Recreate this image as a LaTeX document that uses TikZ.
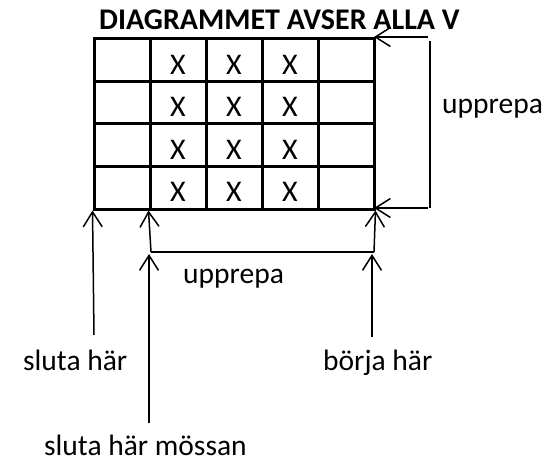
\documentclass[tikz,border=0pt]{standalone}
\usepackage{fontspec}
\setmainfont{Carlito}
\usetikzlibrary{arrows.meta}
\begin{document}
\begin{tikzpicture}[x=1pt,y=-1pt,
  cell/.style={draw,line width=3pt,minimum width=56pt,minimum height=42.5pt,inner sep=0pt,
    text height=28pt,text depth=0pt,font=\fontsize{30}{30}\selectfont},
  conn/.style={line width=1.5pt,-{Straight Barb[length=15pt,width=19pt,line width=1.5pt]}},
  plain/.style={line width=1.5pt},
  lbl/.style={font=\fontsize{29.5}{29.5}\selectfont,inner sep=0pt,anchor=base west}]
\useasboundingbox (0,0) rectangle (553,462);
% title
\node[font=\bfseries\fontsize{30}{30}\selectfont,inner sep=0pt,anchor=base west] (title) at (99,30) {DIAGRAMMET AVSER ALLA V};
% grid
\foreach \r in {1,...,4}{
  \foreach \c in {1,...,5}{
    \ifnum\c=1 \def\t{}\else\ifnum\c=5 \def\t{}\else\def\t{X}\fi\fi
    \node[cell] (c\r\c) at ({94+56*\c-28},{39+42.5*\r-21.25}) {\t};
  }
}
% labels
\node[lbl] (uright) at (442,114) {upprepa};
\node[lbl] (ubottom) at (183,283) {upprepa};
\node[lbl] (slut) at (23,370) {sluta här};
\node[lbl] (borja) at (323,370) {börja här};
\node[lbl] (slutm) at (44,455) {sluta här mössan};
% coordinates
\coordinate (rt) at (428,37);
\coordinate (rtt) at (374,37);
\coordinate (rb) at (428,208);
\coordinate (rbt) at (374,208);
\coordinate (vt) at (430,41);
\coordinate (vb) at (430,208);
\coordinate (hl) at (151,252);
\coordinate (hr) at (374,252);
\coordinate (s1) at (94,335);
\coordinate (s2a) at (149,423);
\coordinate (s2b) at (149,254);
\coordinate (s3a) at (372,337);
\coordinate (s3b) at (372,254);
% right bracket
\draw[conn] (rt) -- (rtt);
\draw[conn] (rb) -- (rbt);
\draw[plain] (vt) -- (vb);
% bottom
\draw[conn] (s1) -- (c41.south west);
\draw[conn] (hl) -- (c42.south west);
\draw[conn] (hr) -- (c45.south east);
\draw[plain] (hl) -- (hr);
\draw[conn] (s2a) -- (s2b);
\draw[conn] (s3a) -- (s3b);
\end{tikzpicture}
\end{document}
